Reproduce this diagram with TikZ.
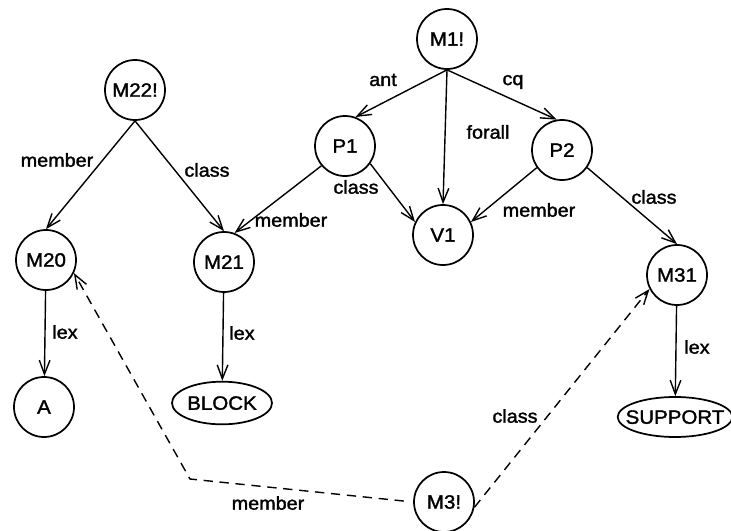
\documentclass[tikz,border=0pt]{standalone}
\usepackage{fontspec}
\setmainfont{Liberation Sans}[FakeStretch=1.06,FakeBold=1.6]
\usetikzlibrary{arrows.meta,shapes.geometric}
\newcommand{\flatbox}[1]{\makebox[0pt]{\raisebox{-.5\height}[0pt][0pt]{#1}}}

\begin{document}
\begin{tikzpicture}
    \tikzset{x=0.75pt,y=-0.75pt,every path/.style={>={Straight Barb[length=10.5pt,width=8pt]}},
      mol/.style={circle,draw,line width=1.3pt,minimum size=45pt,inner sep=0pt,font=\fontsize{14.5}{17}\selectfont},
      base/.style={ellipse,draw,line width=1.3pt,inner sep=0pt,font=\fontsize{14.5}{17}\selectfont},
      arc/.style={->,line width=1.05pt},
      virt/.style={->,line width=1.05pt,dash pattern=on 7pt off 5pt},
      lbl/.style={inner sep=1pt,font=\fontsize{14}{17}\selectfont}}
    \useasboundingbox (0,0) rectangle (731,531);
    % molecular nodes
    \node [mol] (M1)  at (447,39)  {M1!};
    \node [mol] (M22) at (135,90)  {M22!};
    \node [mol] (P1)  at (345,146) {P1};
    \node [mol] (P2)  at (562,150) {P2};
    \node [mol] (V1)  at (443,235) {V1};
    \node [mol] (M20) at (46,260)  {M20};
    \node [mol] (M21) at (224,262) {M21};
    \node [mol] (M31) at (677,275) {M31};
    \node [mol] (M3)  at (444,502) {M3!};
    % base nodes
    \node [mol] (A) at (44,407) {A};
    \node [base,minimum width=75pt,minimum height=32pt] (BLOCK)   at (222,403) {\flatbox{BLOCK}};
    \node [base,minimum width=86pt,minimum height=30pt] (SUPPORT) at (675,417) {\flatbox{SUPPORT}};
    \coordinate (bend) at (190,479);
    % arcs
    \draw[arc] (M1.south) -- (P1.70);
    \draw[arc] (M1.south) -- (V1.north);
    \draw[arc] (M1.south) -- (P2.100);
    \draw[arc] (M22.south) -- (M20.north);
    \draw[arc] (M22.south) -- (M21.north);
    \draw[arc] (P1.220) -- (M21.70);
    \draw[arc] (P1.-35) -- (V1.155);
    \draw[arc] (P2.215) -- (V1.25);
    \draw[arc] (P2.-35) -- (M31.north);
    \draw[arc] (M20) -- (A);
    \draw[arc] (M21) -- (BLOCK);
    \draw[arc] (M31) -- (SUPPORT);
    \draw[virt,shorten <=7pt] (M3.west) -- (bend) -- (M20.-25);
    \draw[virt] (M3.-10) -- (M31.207);
    % arc labels
    \node [lbl] (l-ant)    at (383,80)  {ant};
    \node [lbl] (l-cq)     at (513,82)  {cq};
    \node [lbl] (l-forall) at (488,132) {forall};
    \node [lbl] (l-mem1)   at (57,160)  {member};
    \node [lbl] (l-cls1)   at (207,170) {class};
    \node [lbl] (l-cls2)   at (356,187) {class};
    \node [lbl] (l-mem2)   at (291,220) {member};
    \node [lbl] (l-mem3)   at (539,210) {member};
    \node [lbl] (l-cls3)   at (654,197) {class};
    \node [lbl] (l-lex1)   at (65,332)  {lex};
    \node [lbl] (l-lex2)   at (242,333) {lex};
    \node [lbl] (l-lex3)   at (697,347) {lex};
    \node [lbl] (l-cls4)   at (515,416) {class};
    \node [lbl] (l-mem4)   at (268,503) {member};
\end{tikzpicture}
\end{document}
